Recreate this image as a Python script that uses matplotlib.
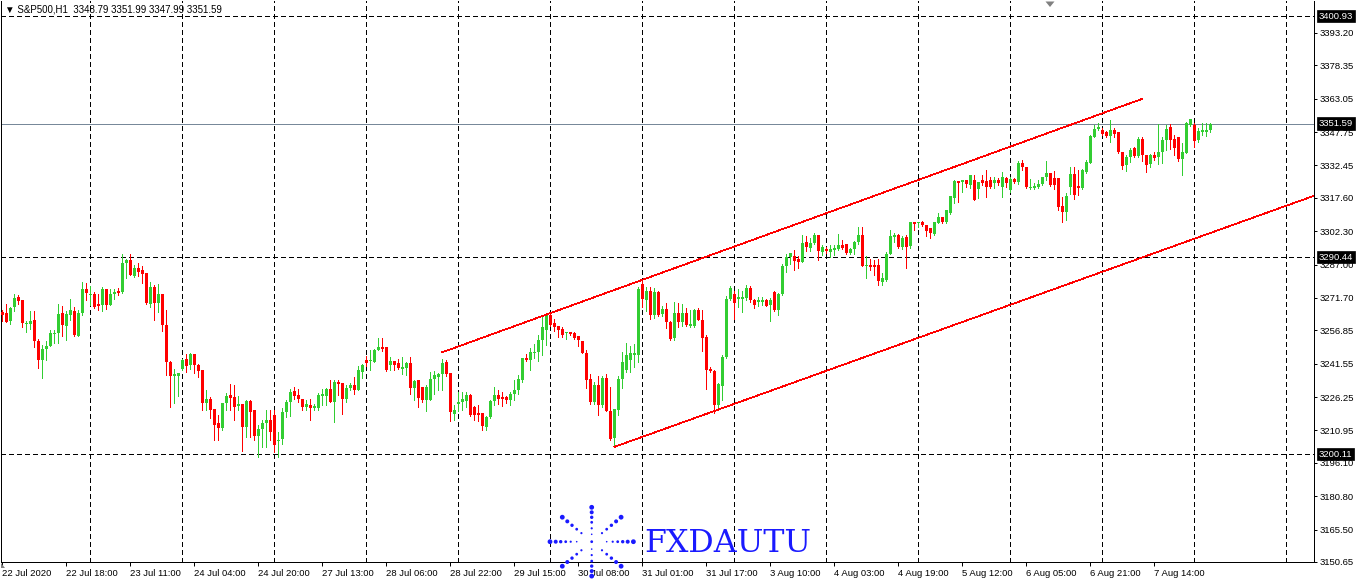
import numpy as np
import matplotlib
matplotlib.use("Agg")
import matplotlib.pyplot as plt
from matplotlib.patches import Polygon
from matplotlib.transforms import blended_transform_factory

# ---------------- data (S&P500, H1) ----------------
opens = [
    3265.3, 3264.8, 3261.1, 3267.5, 3272.1, 3270.8, 3259.8, 3259.8, 3261.6, 3251.9,
    3243.2, 3248.3, 3249.6, 3255.2, 3255.6, 3264.8, 3258.8, 3263.9, 3265.7, 3254.2,
    3264.8, 3275.8, 3273.0, 3273.5, 3268.9, 3268.5, 3275.8, 3268.5, 3273.5, 3274.9,
    3274.4, 3287.7, 3289.1, 3281.7, 3285.4, 3284.5, 3283.1, 3268.9, 3276.7, 3269.4,
    3273.5, 3259.3, 3242.3, 3235.9, 3235.9, 3239.1, 3243.7, 3240.9, 3246.0, 3240.9,
    3238.7, 3223.5, 3225.4, 3220.8, 3214.4, 3212.1, 3223.5, 3227.2, 3226.3, 3222.2,
    3223.1, 3212.5, 3224.4, 3220.3, 3208.4, 3211.6, 3214.4, 3215.7, 3218.0, 3206.1,
    3207.0, 3219.4, 3224.0, 3229.0, 3227.2, 3225.4, 3221.7, 3222.6, 3221.2, 3221.2,
    3226.7, 3226.7, 3229.9, 3224.0, 3233.2, 3232.7, 3225.4, 3230.4, 3231.8, 3229.5,
    3237.7, 3243.2, 3242.8, 3242.3, 3247.8, 3249.2, 3249.2, 3240.9, 3242.8, 3241.9,
    3239.1, 3239.6, 3241.9, 3230.4, 3234.1, 3230.9, 3224.9, 3224.9, 3234.5, 3235.5,
    3236.8, 3242.3, 3237.3, 3218.5, 3223.1, 3224.0, 3224.4, 3227.2, 3221.7, 3218.9,
    3218.9, 3212.5, 3217.1, 3224.4, 3227.2, 3226.3, 3226.3, 3224.9, 3227.6, 3229.5,
    3234.1, 3244.1, 3243.2, 3246.4, 3246.9, 3252.4, 3257.0, 3263.9, 3260.2, 3258.8,
    3257.5, 3255.6, 3256.1, 3255.6, 3254.2, 3251.9, 3246.4, 3234.5, 3224.0, 3231.8,
    3222.6, 3235.0, 3219.9, 3207.5, 3220.3, 3234.5, 3238.7, 3243.2, 3245.5, 3245.5,
    3278.1, 3270.8, 3274.9, 3263.9, 3274.4, 3264.3, 3266.6, 3260.7, 3253.3, 3264.8,
    3260.7, 3264.8, 3258.8, 3258.8, 3266.2, 3261.6, 3253.8, 3239.1, 3238.2, 3222.6,
    3231.3, 3244.6, 3271.2, 3273.5, 3271.2, 3271.2, 3271.7, 3276.2, 3270.8, 3269.8,
    3269.8, 3270.8, 3268.5, 3274.4, 3266.2, 3273.5, 3286.3, 3290.5, 3290.9, 3289.5,
    3288.2, 3297.3, 3294.6, 3296.9, 3300.6, 3292.8, 3294.1, 3292.8, 3293.7, 3294.1,
    3296.0, 3296.4, 3292.3, 3294.1, 3297.3, 3300.6, 3286.3, 3286.8, 3286.8, 3286.8,
    3279.0, 3279.9, 3291.9, 3299.6, 3300.6, 3295.1, 3299.6, 3295.5, 3306.5, 3306.0,
    3306.5, 3305.1, 3303.8, 3301.0, 3306.0, 3308.8, 3306.5, 3310.6, 3317.5, 3325.3,
    3324.9, 3325.8, 3323.5, 3325.8, 3321.6, 3325.8, 3325.3, 3325.8, 3324.4, 3325.8,
    3322.6, 3326.7, 3321.2, 3326.2, 3324.9, 3333.6, 3331.7, 3322.1, 3322.1, 3322.6,
    3323.9, 3327.1, 3328.9, 3326.7, 3326.7, 3313.8, 3311.1, 3322.6, 3328.5, 3323.0,
    3322.1, 3329.4, 3333.6, 3345.5, 3349.2, 3348.7, 3347.8, 3345.9, 3348.7, 3347.8,
    3338.6, 3332.6, 3336.3, 3340.4, 3336.8, 3344.6, 3337.2, 3333.1, 3337.2, 3336.3,
    3338.6, 3344.1, 3350.1, 3344.6, 3345.5, 3335.4, 3338.2, 3351.0, 3351.0, 3344.1,
    3347.8, 3347.8, 3348.79]

highs = [
    3266.2, 3268.9, 3267.5, 3273.5, 3273.0, 3270.8, 3261.1, 3265.7, 3265.7, 3252.9,
    3250.1, 3251.9, 3257.0, 3257.0, 3268.9, 3268.0, 3265.7, 3271.2, 3267.5, 3266.2,
    3279.0, 3278.5, 3277.2, 3274.4, 3273.5, 3276.7, 3275.8, 3275.8, 3275.8, 3276.2,
    3291.9, 3289.5, 3291.9, 3286.8, 3287.7, 3286.3, 3283.1, 3279.0, 3277.6, 3278.1,
    3273.5, 3266.2, 3242.8, 3239.1, 3237.3, 3243.7, 3246.0, 3246.4, 3246.0, 3241.4,
    3238.7, 3229.5, 3226.3, 3220.8, 3218.0, 3223.5, 3228.1, 3232.2, 3231.8, 3226.7,
    3223.1, 3224.9, 3224.9, 3220.3, 3213.4, 3215.7, 3220.3, 3220.3, 3220.3, 3210.2,
    3221.2, 3224.9, 3229.9, 3230.9, 3229.9, 3225.4, 3224.9, 3225.4, 3223.1, 3228.1,
    3229.9, 3230.4, 3234.1, 3234.1, 3234.1, 3232.7, 3231.8, 3232.7, 3235.5, 3240.5,
    3241.4, 3245.1, 3247.8, 3248.3, 3253.3, 3253.3, 3249.2, 3244.6, 3242.8, 3243.7,
    3244.6, 3242.3, 3244.6, 3234.1, 3234.1, 3230.9, 3231.8, 3237.7, 3238.2, 3237.3,
    3243.7, 3243.2, 3237.3, 3222.6, 3228.6, 3228.6, 3228.6, 3227.6, 3222.2, 3222.6,
    3218.9, 3217.6, 3224.9, 3230.9, 3229.5, 3228.6, 3226.7, 3228.6, 3234.1, 3236.4,
    3244.1, 3246.0, 3248.7, 3250.6, 3254.7, 3263.9, 3264.8, 3264.8, 3262.0, 3258.8,
    3258.4, 3256.1, 3256.1, 3256.1, 3254.2, 3251.9, 3247.8, 3236.8, 3233.2, 3235.9,
    3235.9, 3236.8, 3230.9, 3220.8, 3235.9, 3246.9, 3251.0, 3249.6, 3250.6, 3276.7,
    3280.4, 3276.7, 3276.7, 3276.2, 3274.9, 3268.0, 3269.4, 3261.1, 3269.8, 3269.4,
    3268.9, 3267.1, 3266.2, 3266.6, 3267.1, 3266.2, 3254.7, 3240.0, 3238.7, 3232.7,
    3245.5, 3272.6, 3277.2, 3274.9, 3275.8, 3274.9, 3277.6, 3277.2, 3271.2, 3272.1,
    3272.1, 3271.2, 3271.7, 3274.9, 3274.0, 3287.3, 3291.9, 3292.3, 3293.7, 3290.9,
    3300.6, 3300.1, 3299.2, 3301.5, 3300.6, 3296.0, 3295.1, 3296.0, 3296.0, 3301.0,
    3298.3, 3296.4, 3294.6, 3297.8, 3304.2, 3304.2, 3290.9, 3289.5, 3289.1, 3289.5,
    3283.1, 3292.8, 3302.8, 3301.5, 3301.0, 3300.1, 3300.6, 3306.5, 3306.5, 3306.5,
    3306.9, 3305.1, 3303.8, 3306.5, 3310.6, 3308.8, 3312.0, 3318.4, 3325.8, 3325.3,
    3325.8, 3325.8, 3328.1, 3328.1, 3324.9, 3328.1, 3330.4, 3327.1, 3327.1, 3326.7,
    3329.4, 3327.1, 3327.1, 3326.7, 3334.5, 3335.0, 3331.7, 3326.2, 3324.4, 3325.8,
    3327.1, 3334.5, 3328.9, 3329.9, 3326.7, 3318.0, 3319.8, 3331.7, 3331.7, 3330.4,
    3330.8, 3335.0, 3346.4, 3351.0, 3351.9, 3349.6, 3348.2, 3353.3, 3349.6, 3347.8,
    3338.6, 3337.2, 3340.4, 3340.9, 3345.5, 3345.5, 3337.2, 3337.7, 3338.6, 3351.4,
    3345.5, 3351.0, 3351.4, 3346.4, 3345.5, 3342.7, 3352.4, 3353.7, 3351.9, 3349.6,
    3351.9, 3351.9, 3351.99]

lows = [
    3261.1, 3260.7, 3259.8, 3265.7, 3268.9, 3258.4, 3256.1, 3257.5, 3249.2, 3239.6,
    3235.0, 3243.2, 3249.6, 3251.0, 3251.0, 3254.2, 3252.4, 3261.6, 3254.2, 3254.2,
    3263.9, 3270.8, 3268.5, 3267.1, 3266.2, 3265.7, 3266.6, 3268.5, 3271.2, 3273.0,
    3274.0, 3280.8, 3282.2, 3281.3, 3281.7, 3278.5, 3268.9, 3267.5, 3261.6, 3265.3,
    3256.5, 3236.4, 3221.7, 3223.5, 3226.7, 3238.7, 3237.7, 3239.1, 3237.3, 3235.5,
    3220.3, 3220.3, 3216.6, 3206.6, 3206.6, 3211.2, 3220.3, 3220.3, 3215.7, 3220.3,
    3201.5, 3207.9, 3207.9, 3206.6, 3198.8, 3203.3, 3203.3, 3206.6, 3201.1, 3198.8,
    3204.7, 3217.1, 3217.6, 3225.4, 3224.0, 3220.3, 3220.3, 3215.7, 3220.3, 3220.3,
    3222.6, 3222.6, 3224.0, 3214.8, 3227.2, 3218.5, 3224.0, 3229.5, 3227.6, 3229.5,
    3235.0, 3240.5, 3238.7, 3242.3, 3247.8, 3247.4, 3238.2, 3238.7, 3238.7, 3239.1,
    3236.8, 3236.4, 3227.6, 3224.9, 3221.7, 3224.0, 3219.9, 3224.9, 3227.6, 3229.5,
    3229.5, 3235.9, 3215.3, 3215.7, 3219.9, 3220.3, 3221.7, 3217.6, 3215.7, 3215.3,
    3211.2, 3211.2, 3216.6, 3222.6, 3223.1, 3222.2, 3223.5, 3222.6, 3224.9, 3227.6,
    3233.2, 3242.8, 3238.7, 3244.1, 3242.8, 3245.5, 3250.1, 3258.8, 3256.5, 3253.8,
    3253.8, 3252.9, 3254.7, 3252.9, 3249.6, 3246.4, 3230.4, 3223.1, 3223.1, 3218.0,
    3221.7, 3219.9, 3206.6, 3203.3, 3218.0, 3230.4, 3237.7, 3237.7, 3240.0, 3242.3,
    3267.5, 3265.7, 3262.0, 3262.5, 3263.4, 3263.4, 3257.9, 3252.4, 3252.4, 3258.4,
    3258.8, 3258.8, 3258.4, 3258.4, 3261.6, 3247.4, 3230.0, 3237.7, 3218.9, 3221.7,
    3224.9, 3244.1, 3270.8, 3262.0, 3267.5, 3265.3, 3270.8, 3269.8, 3267.1, 3268.0,
    3268.5, 3268.0, 3261.1, 3265.7, 3263.9, 3273.0, 3283.6, 3287.3, 3284.5, 3285.4,
    3288.2, 3293.2, 3293.2, 3296.4, 3289.1, 3291.4, 3292.3, 3290.5, 3291.4, 3293.7,
    3294.1, 3291.9, 3291.9, 3291.9, 3296.4, 3286.3, 3280.8, 3284.5, 3282.2, 3277.6,
    3277.6, 3279.4, 3291.9, 3297.3, 3294.6, 3294.1, 3285.4, 3294.6, 3302.8, 3304.2,
    3304.7, 3300.1, 3299.2, 3300.6, 3306.0, 3306.0, 3306.0, 3310.2, 3315.2, 3315.7,
    3320.3, 3322.6, 3322.1, 3316.6, 3317.5, 3323.5, 3318.0, 3322.1, 3322.1, 3323.5,
    3318.0, 3322.6, 3320.3, 3324.4, 3323.9, 3330.4, 3322.1, 3321.6, 3321.6, 3322.1,
    3323.5, 3325.8, 3323.0, 3321.6, 3312.0, 3306.5, 3307.4, 3319.4, 3317.1, 3318.9,
    3321.6, 3329.0, 3333.6, 3345.5, 3348.7, 3346.4, 3345.5, 3343.2, 3345.5, 3338.2,
    3330.8, 3329.9, 3334.0, 3336.3, 3336.3, 3334.5, 3329.4, 3331.7, 3335.0, 3333.1,
    3333.6, 3339.5, 3340.0, 3337.2, 3334.5, 3328.1, 3338.2, 3350.5, 3340.9, 3343.2,
    3346.4, 3345.9, 3347.99]

closes = [
    3263.9, 3260.7, 3267.1, 3271.7, 3270.3, 3260.2, 3260.2, 3261.1, 3251.9, 3243.2,
    3248.3, 3249.6, 3255.6, 3255.6, 3264.3, 3259.3, 3264.3, 3266.2, 3254.7, 3264.8,
    3275.8, 3274.0, 3273.5, 3267.5, 3268.0, 3275.8, 3268.5, 3273.5, 3274.4, 3274.0,
    3287.7, 3289.1, 3282.2, 3285.4, 3283.6, 3282.7, 3269.4, 3276.7, 3269.4, 3273.5,
    3259.3, 3242.3, 3235.9, 3236.8, 3237.3, 3243.2, 3240.5, 3246.0, 3240.9, 3238.2,
    3223.5, 3225.4, 3220.3, 3213.4, 3212.1, 3223.5, 3226.7, 3225.8, 3221.7, 3223.1,
    3212.5, 3224.4, 3219.4, 3208.4, 3211.6, 3214.4, 3215.7, 3210.2, 3204.3, 3206.6,
    3219.4, 3224.0, 3228.6, 3226.7, 3225.4, 3221.7, 3223.1, 3221.2, 3222.2, 3227.2,
    3227.6, 3229.9, 3224.0, 3233.2, 3232.2, 3225.4, 3230.4, 3231.8, 3229.5, 3238.7,
    3240.9, 3241.9, 3243.2, 3247.8, 3249.2, 3248.3, 3238.7, 3242.8, 3240.9, 3239.6,
    3240.0, 3241.9, 3230.4, 3233.6, 3225.8, 3224.9, 3230.9, 3234.5, 3236.4, 3236.8,
    3241.9, 3236.8, 3219.4, 3220.3, 3224.0, 3225.4, 3227.2, 3218.0, 3218.0, 3218.0,
    3213.0, 3217.1, 3224.4, 3227.2, 3225.4, 3225.4, 3224.9, 3227.6, 3229.5, 3234.5,
    3244.1, 3243.2, 3246.9, 3246.9, 3252.4, 3258.4, 3263.9, 3259.3, 3258.4, 3257.0,
    3254.7, 3256.1, 3255.2, 3253.3, 3252.4, 3246.4, 3234.1, 3224.0, 3231.8, 3222.6,
    3235.0, 3219.9, 3207.0, 3220.8, 3234.5, 3242.3, 3245.5, 3246.4, 3246.4, 3275.8,
    3271.2, 3274.9, 3263.9, 3274.4, 3263.9, 3266.6, 3260.7, 3252.9, 3264.8, 3260.7,
    3264.8, 3259.3, 3259.8, 3266.2, 3261.6, 3253.3, 3238.7, 3238.2, 3222.6, 3232.2,
    3244.6, 3271.2, 3276.2, 3269.4, 3272.1, 3272.1, 3276.2, 3270.8, 3268.5, 3270.8,
    3270.8, 3268.0, 3270.8, 3266.2, 3273.5, 3286.3, 3290.5, 3292.3, 3288.6, 3288.2,
    3296.9, 3295.1, 3296.9, 3300.6, 3293.2, 3295.1, 3293.2, 3294.1, 3294.6, 3296.0,
    3294.6, 3292.3, 3294.1, 3297.3, 3300.6, 3286.3, 3286.8, 3285.9, 3285.9, 3279.4,
    3280.8, 3291.9, 3300.1, 3300.6, 3295.1, 3299.2, 3295.1, 3306.5, 3305.6, 3306.5,
    3305.1, 3302.4, 3301.5, 3306.5, 3308.8, 3306.5, 3312.0, 3318.4, 3325.3, 3324.4,
    3325.8, 3323.9, 3328.1, 3316.6, 3324.9, 3324.4, 3322.6, 3322.6, 3325.8, 3324.4,
    3327.1, 3324.4, 3326.2, 3324.9, 3333.6, 3331.7, 3322.6, 3322.6, 3323.0, 3323.9,
    3327.1, 3328.9, 3323.5, 3323.5, 3313.4, 3311.1, 3318.4, 3328.5, 3318.9, 3322.1,
    3330.4, 3334.0, 3345.9, 3349.2, 3350.1, 3346.8, 3345.9, 3348.7, 3346.8, 3338.6,
    3332.2, 3336.3, 3339.5, 3336.8, 3344.6, 3337.2, 3332.6, 3337.2, 3335.9, 3338.6,
    3344.1, 3349.2, 3344.1, 3340.4, 3335.4, 3338.6, 3351.9, 3353.7, 3343.7, 3348.2,
    3348.7, 3348.7, 3351.59]

# time axis labels (every 16 bars)
xtick_bars = [0, 16, 32, 48, 64, 80, 96, 112, 128, 144, 160, 176, 192, 208, 224, 240, 256, 272, 288]
xtick_labels = ["22 Jul 2020", "22 Jul 18:00", "23 Jul 11:00", "24 Jul 04:00", "24 Jul 20:00",
                "27 Jul 13:00", "28 Jul 06:00", "28 Jul 22:00", "29 Jul 15:00", "30 Jul 08:00",
                "31 Jul 01:00", "31 Jul 17:00", "3 Aug 10:00", "4 Aug 03:00", "4 Aug 19:00",
                "5 Aug 12:00", "6 Aug 05:00", "6 Aug 21:00", "7 Aug 14:00"]
grid_bars = [22, 45, 68, 91, 114, 137, 160, 183, 206, 229, 252, 275, 298, 321]

ytick_vals = [3393.20, 3378.35, 3363.05, 3347.75, 3332.45, 3317.60, 3302.30, 3287.00,
              3271.70, 3256.85, 3241.55, 3226.25, 3210.95, 3196.10, 3180.80, 3165.50, 3150.65]

hline_levels = [3400.93, 3290.44, 3200.11]   # dashed horizontal levels
bid_level = 3351.59

# channel lines: (bar, price) endpoints
upper_channel_bars = [110.0, 284.85]
upper_channel_prices = [3246.8, 3362.9]
lower_channel_bars = [153.0, 327.7]
lower_channel_prices = [3203.4, 3318.4]

header_text = "\u25bc S&P500,H1  3348.79 3351.99 3347.99 3351.59"
logo_text = "FXDAUTU"

# ---------------- style ----------------
GREEN = "#32CD32"
RED = "#FF0000"
BIDGREY = "#778899"
LOGOBLUE = "#1a1aff"
PX = 0.72  # one pixel in points at 100 dpi

plt.rcParams["font.family"] = ["Liberation Sans", "DejaVu Sans"]

W, H = 1358, 582
fig = plt.figure(figsize=(W / 100, H / 100), dpi=100)
fig.patch.set_facecolor("white")
ax = fig.add_axes([1 / W, 20 / H, 1313 / W, 561.5 / H])

o = np.array(opens)
hi = np.array(highs)
lo = np.array(lows)
c = np.array(closes)
x = np.arange(len(c))
hi = np.maximum(hi, np.maximum(o, c))
lo = np.minimum(lo, np.minimum(o, c))

col = np.where(c >= o, GREEN, RED)
body_bottom = np.minimum(o, c)
body_height = np.maximum(np.abs(c - o), 0.45)

ax.vlines(x, lo, hi, colors=col, linewidth=PX, antialiased=False, zorder=3)
ax.bar(x, body_height, bottom=body_bottom, width=0.75, color=col,
       linewidth=0, antialiased=False, zorder=4)

# grid / levels
dash = (0, (4.2, 3.0))
for b in grid_bars:
    ax.axvline(b, color="black", linewidth=PX, linestyle=dash, antialiased=False, zorder=1)
for lv in hline_levels:
    ax.axhline(lv, color="black", linewidth=PX, linestyle=dash, antialiased=False, zorder=1)
ax.axhline(bid_level, color=BIDGREY, linewidth=PX, antialiased=False, zorder=2)

# channel
ax.plot(upper_channel_bars, upper_channel_prices, color=RED, linewidth=0.5,
        antialiased=False, zorder=5)
ax.plot(lower_channel_bars, lower_channel_prices, color=RED, linewidth=0.5,
        antialiased=False, zorder=5)

ax.set_xlim(-0.33, 327.9)
ax.set_ylim(3150.62, 3408.07)

# spines
for s in ["left", "right", "bottom"]:
    ax.spines[s].set_linewidth(PX)
    ax.spines[s].set_color("black")
ax.spines["top"].set_visible(False)

# y axis on right
ax.yaxis.tick_right()
ax.set_yticks(ytick_vals)
ax.set_yticklabels([f"{v:.2f}" for v in ytick_vals])
ax.tick_params(axis="y", direction="out", length=2.3, width=PX, pad=2.0,
               labelsize=6.8, colors="black", left=False, right=True)

# x axis
ax.set_xticks(xtick_bars)
ax.set_xticklabels(xtick_labels)
for lab in ax.get_xticklabels():
    lab.set_horizontalalignment("left")
ax.tick_params(axis="x", direction="out", length=3.0, width=PX, pad=2.0,
               labelsize=6.8, colors="black")

# highlighted price labels on the right scale
trans = blended_transform_factory(ax.transAxes, ax.transData)
for lv in hline_levels + [bid_level]:
    ax.annotate(f"{lv:.2f}", xy=(1.0, lv), xycoords=trans, xytext=(3.6, 0),
                textcoords="offset points", ha="left", va="center",
                fontsize=6.8, color="white", annotation_clip=False, zorder=10,
                bbox=dict(boxstyle="square,pad=0.18", fc="black", ec="black", lw=0.5))

# ---------------- overlay (header, markers, logo) in pixel coords ----------------
ov = fig.add_axes([0, 0, 1, 1])
ov.set_xlim(0, W)
ov.set_ylim(H, 0)
ov.axis("off")
ov.patch.set_alpha(0)

ov.text(5, 10, header_text, fontsize=7.0, ha="left", va="center", color="black")

# shift marker at top
ov.add_patch(Polygon([[1045.5, 1.5], [1054.5, 1.5], [1050, 7]], closed=True,
                     fc="#808080", ec="none"))
# small corner marker bottom-left
ov.add_patch(Polygon([[1, 563], [1, 568], [5, 568]], closed=True, fc="#808080", ec="none"))

# logo starburst
cx, cy = 591.7, 541.7
h_r = [41.7, 36.0, 31.0, 26.0, 21.0, 15.0]
v_r = [34.4, 29.4, 24.4, 19.4, 13.4, 7.4]
d_s = [1.0, 0.83, 0.67, 0.51, 0.35]
dot_d = [4.8, 4.0, 3.4, 2.8, 2.2, 1.6]
px_list, py_list, s_list = [cx], [cy], [(2.8 * PX) ** 2]
for i, r in enumerate(h_r):
    for sx in (-1, 1):
        px_list.append(cx + sx * r); py_list.append(cy); s_list.append((dot_d[i] * PX) ** 2)
for i, r in enumerate(v_r):
    for sy in (-1, 1):
        px_list.append(cx); py_list.append(cy + sy * r); s_list.append((dot_d[i] * PX) ** 2)
for i, f in enumerate(d_s):
    for sx in (-1, 1):
        for sy in (-1, 1):
            px_list.append(cx + sx * 29.4 * f); py_list.append(cy + sy * 24.5 * f)
            s_list.append((dot_d[i] * PX) ** 2)
ov.scatter(px_list, py_list, s=s_list, color=LOGOBLUE, linewidths=0, zorder=20)

ov.text(644, 552, logo_text, fontsize=22.8, family="DejaVu Serif", color=LOGOBLUE,
        ha="left", va="baseline", zorder=20)

fig.savefig("out.png", dpi=100, facecolor="white")
